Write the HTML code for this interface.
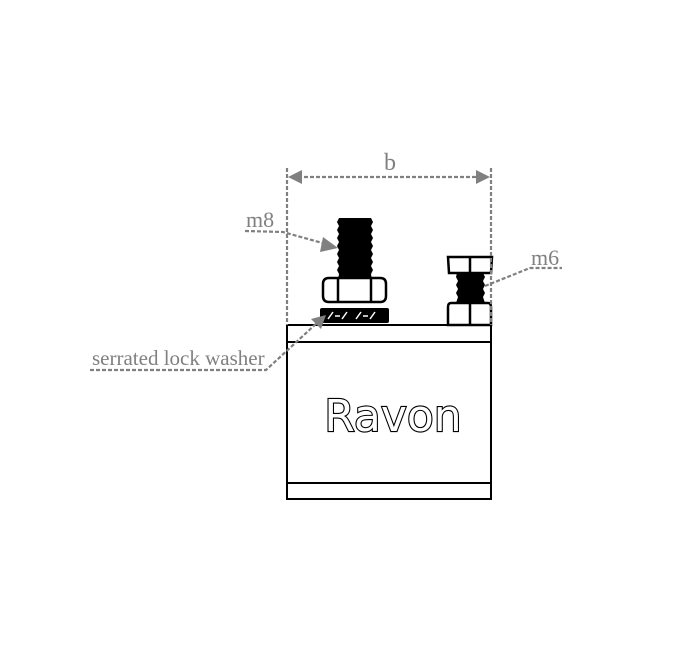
<!DOCTYPE html>
<html><head><meta charset="utf-8"><style>
html,body{margin:0;padding:0;background:#fff}
svg{display:block}
</style></head><body>
<svg width="700" height="652" viewBox="0 0 700 652" xmlns="http://www.w3.org/2000/svg">
<g stroke="#000" stroke-width="2" fill="#fff">
<rect x="287" y="325" width="204" height="174"/>
<line x1="287" y1="342" x2="491" y2="342"/>
<line x1="287" y1="483" x2="491" y2="483"/>
</g>
<path d="M339,218 L371,218 L373,222 L371,226 L373,230 L371,234 L373,238 L371,242 L373,246 L371,250 L373,254 L371,258 L373,262 L371,266 L373,270 L371,274 L372,280 L338,280 L339,274 L337,270 L339,266 L337,262 L339,258 L337,254 L339,250 L337,246 L339,242 L337,238 L339,234 L337,230 L339,226 L337,222 z" fill="#000"/>
<rect x="320" y="308" width="69" height="15" rx="2" fill="#000"/>
<g stroke="#fff" stroke-width="1.5"><line x1="328" y1="319" x2="333" y2="312"/><line x1="342" y1="319" x2="347" y2="312"/><line x1="356" y1="319" x2="361" y2="312"/><line x1="370" y1="319" x2="375" y2="312"/><line x1="335" y1="316" x2="340" y2="316"/><line x1="363" y1="316" x2="368" y2="316"/></g>
<g stroke="#000" stroke-width="2.5" fill="#fff">
<path d="M329,278 L380,278 Q386,278 386,284 L386,296 Q386,302 380,302 L329,302 Q323,302 323,296 L323,284 Q323,278 329,278 z"/>
<line x1="338" y1="279" x2="338" y2="301"/><line x1="371" y1="279" x2="371" y2="301"/>
</g>
<path d="M457,273 L483,273 L485,277 L483,281 L485,285 L483,289 L485,293 L483,297 L485,303 L456,303 L458,297 L456,293 L458,289 L456,285 L458,281 L456,277 z" fill="#000"/>
<g stroke="#000" stroke-width="2.5" fill="#fff">
<path d="M448,257 L492,257 L491,273 L449,273 z"/>
<line x1="470" y1="258" x2="470" y2="272"/>
<path d="M451,303 L488,303 Q491,303 491,307 L491,325 L448,325 L448,307 Q448,303 451,303 z"/>
<line x1="470" y1="304" x2="470" y2="324"/>
</g>
<text x="393" y="431" font-family="DejaVu Sans, Liberation Sans, sans-serif" font-size="44" text-anchor="middle" fill="#fff" stroke="#000" stroke-width="2.2" style="paint-order:stroke">Ravon</text>
<g stroke="#808080" stroke-width="2.2" stroke-dasharray="4,2" fill="none">
<line x1="287" y1="168" x2="287" y2="325"/>
<line x1="491" y1="168" x2="491" y2="325"/>
<line x1="298" y1="177" x2="480" y2="177"/>
<polyline points="245,231 283,232 326,244"/>
<polyline points="90,370 266,370 318,322"/>
<polyline points="485,286 530,268 562,268"/>
</g>
<path d="M288,177 L302,170 L302,184 z" fill="#808080"/>
<path d="M490,177 L476,170 L476,184 z" fill="#808080"/>
<path d="M338,248 L323,237 L320,252 z" fill="#808080"/>
<path d="M326,315 L311,319 L321,329 z" fill="#808080"/>
<g font-family="Liberation Serif, serif" fill="#808080">
<text x="390" y="170" font-size="24" text-anchor="middle">b</text>
<text x="246" y="227" font-size="22">m8</text>
<text x="531" y="265" font-size="22">m6</text>
<text x="92" y="365" font-size="21">serrated lock washer</text>
</g>
</svg>
</body></html>
